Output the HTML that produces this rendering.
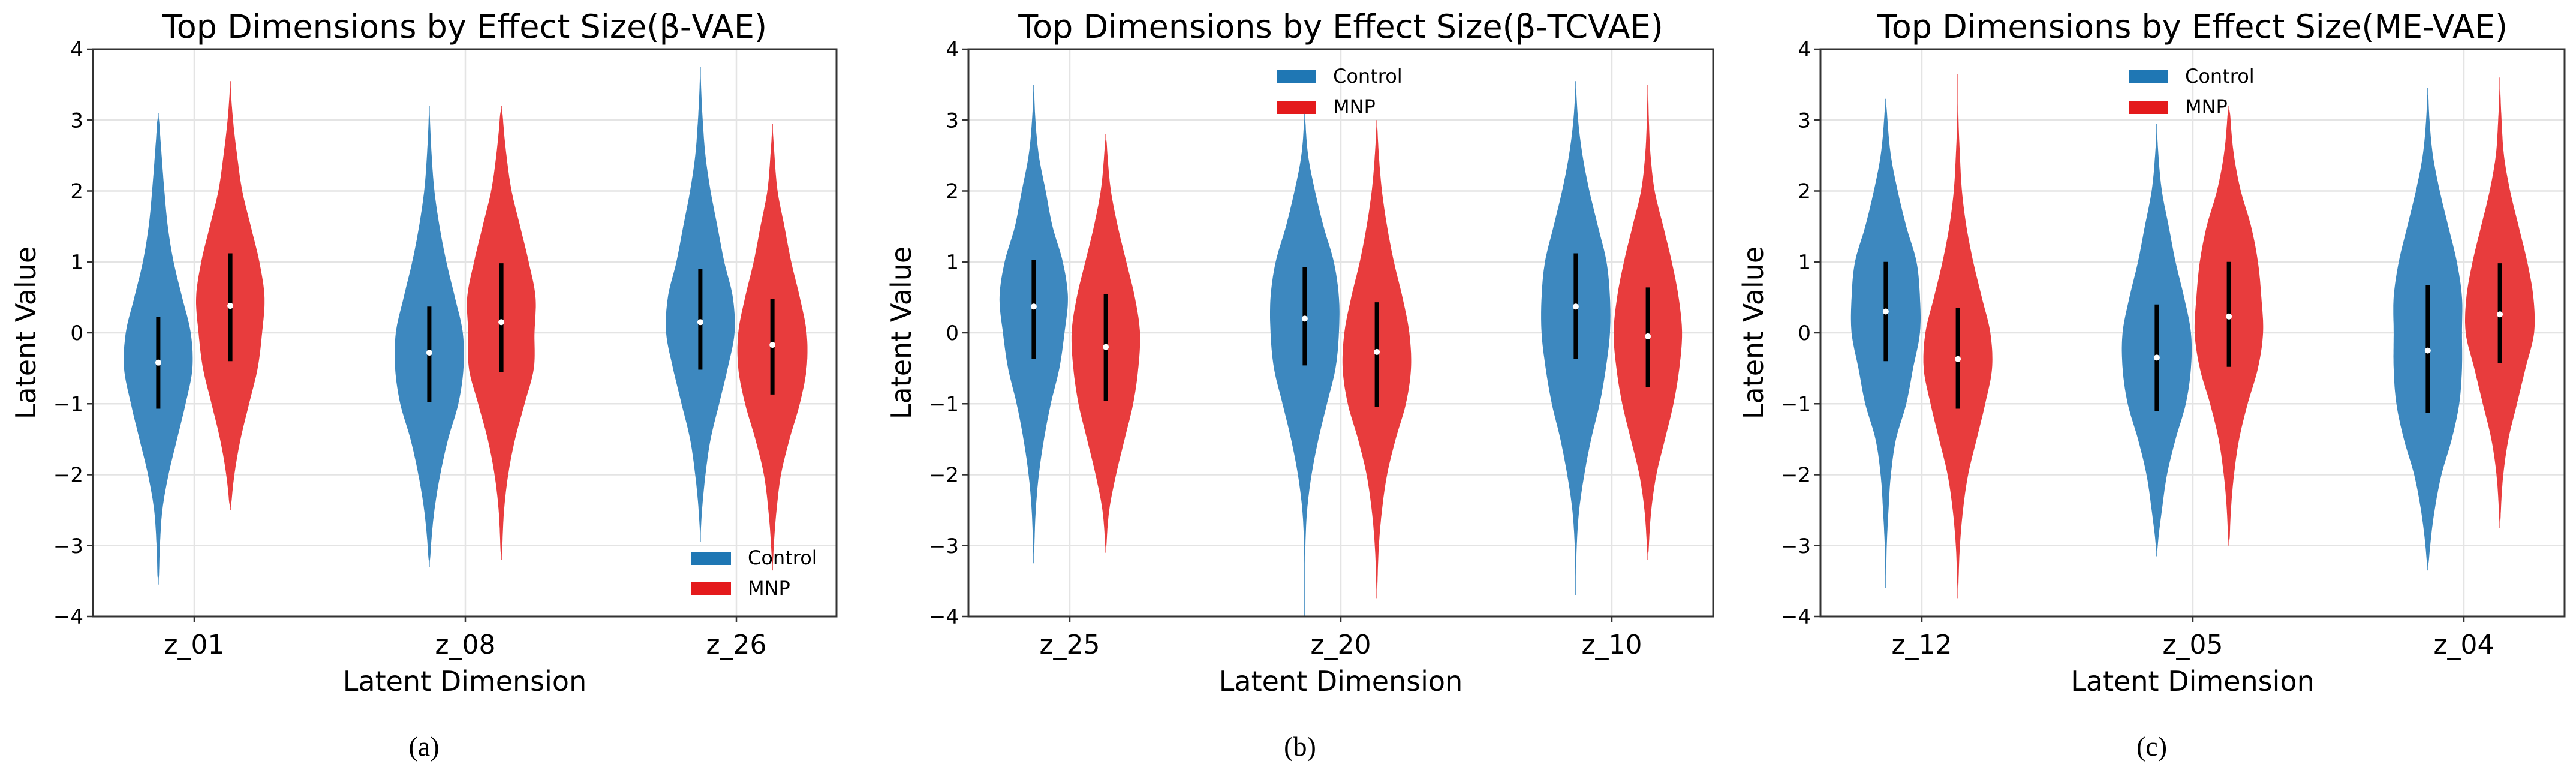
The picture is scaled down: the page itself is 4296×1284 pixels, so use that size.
<!DOCTYPE html>
<html><head><meta charset="utf-8"><style>
html,body{margin:0;padding:0;background:#fff;}
svg{display:block;font-family:"DejaVu Sans","Liberation Sans",sans-serif;}
</style></head><body>
<svg id="fig" width="4296" height="1284" viewBox="0 0 4296 1284"></svg>
<script>
// ---- data ----
const levels = [-4,-3.5,-3,-2.5,-2,-1.5,-1,-0.5,0,0.5,1,1.5,2,2.5,3,3.5,4];
const titles = ["Top Dimensions by Effect Size(β-VAE)","Top Dimensions by Effect Size(β-TCVAE)","Top Dimensions by Effect Size(ME-VAE)"];
const captions = ["(a)","(b)","(c)"];
const yTicks = [-4,-3,-2,-1,0,1,2,3,4];
const yTickLabels = ["−4","−3","−2","−1","0","1","2","3","4"];
const cats = [["z_01","z_08","z_26"],["z_25","z_20","z_10"],["z_12","z_05","z_04"]];
const ctrlMed = [[-0.42,-0.28,0.15],[0.37,0.2,0.37],[0.3,-0.35,-0.25]];
const ctrlLo = [[-1.07,-0.98,-0.52],[-0.37,-0.46,-0.37],[-0.4,-1.1,-1.13]];
const ctrlHi = [[0.22,0.37,0.9],[1.03,0.93,1.12],[1.0,0.4,0.67]];
const ctrlMin = [[-3.55,-3.3,-2.95],[-3.25,-4.0,-3.7],[-3.6,-3.15,-3.35]];
const ctrlMax = [[3.1,3.2,3.75],[3.5,3.1,3.55],[3.3,2.95,3.45]];
const mnpMed = [[0.38,0.15,-0.17],[-0.2,-0.27,-0.05],[-0.37,0.23,0.26]];
const mnpLo = [[-0.4,-0.55,-0.87],[-0.96,-1.04,-0.77],[-1.07,-0.48,-0.43]];
const mnpHi = [[1.12,0.98,0.48],[0.55,0.43,0.64],[0.35,1.0,0.98]];
const mnpMin = [[-2.5,-3.2,-3.35],[-3.1,-3.75,-3.2],[-3.75,-3.0,-2.75]];
const mnpMax = [[3.55,3.2,2.95],[2.8,3.0,3.5],[3.65,3.2,3.6]];
// relative widths at levels -4..4
const ctrlShape = [
 [[0,0.02,0.05,0.12,0.3,0.55,0.8,1,0.95,0.7,0.45,0.28,0.18,0.1,0.03,0,0],
  [0,0,0.05,0.15,0.32,0.55,0.85,1,0.98,0.75,0.5,0.3,0.15,0.07,0.02,0,0],
  [0,0,0,0.05,0.15,0.3,0.55,0.8,1,0.95,0.7,0.5,0.3,0.15,0.07,0.02,0]],
 [[0,0,0.02,0.06,0.15,0.3,0.5,0.75,0.9,1,0.85,0.55,0.35,0.15,0.05,0.01,0],
  [0,0.01,0.02,0.07,0.2,0.4,0.65,0.9,1,1,0.85,0.55,0.3,0.1,0.02,0,0],
  [0,0.01,0.03,0.1,0.25,0.45,0.7,0.88,1,1,0.9,0.65,0.4,0.2,0.07,0.01,0]],
 [[0,0.01,0.03,0.08,0.15,0.3,0.6,0.8,1,1,0.9,0.6,0.35,0.15,0.05,0,0],
  [0,0,0.03,0.15,0.3,0.55,0.85,1,1,0.8,0.55,0.35,0.15,0.05,0,0,0],
  [0,0,0.07,0.2,0.4,0.7,0.92,1,1,1,0.85,0.6,0.35,0.15,0.05,0.01,0]]];
const mnpShape = [
 [[0,0,0,0.02,0.12,0.3,0.55,0.8,0.93,1,0.85,0.6,0.35,0.2,0.08,0.01,0],
  [0,0,0.03,0.08,0.2,0.4,0.68,0.95,0.97,1,0.8,0.55,0.3,0.15,0.05,0,0],
  [0,0,0.04,0.12,0.25,0.5,0.8,1,1,0.8,0.55,0.35,0.15,0.06,0,0,0]],
 [[0,0,0.02,0.1,0.3,0.55,0.8,0.95,1,0.85,0.6,0.35,0.15,0.05,0,0,0],
  [0,0.02,0.06,0.15,0.3,0.55,0.85,1,0.95,0.75,0.5,0.3,0.15,0.06,0.01,0,0],
  [0,0,0.03,0.1,0.25,0.5,0.75,0.92,1,0.9,0.7,0.45,0.2,0.08,0.03,0.01,0]],
 [[0,0.02,0.06,0.15,0.3,0.55,0.8,1,0.95,0.7,0.45,0.25,0.12,0.06,0.02,0.01,0],
  [0,0,0.02,0.06,0.15,0.3,0.55,0.85,1,0.95,0.85,0.65,0.35,0.15,0.05,0.01,0],
  [0,0,0,0.03,0.1,0.25,0.5,0.75,1,0.98,0.8,0.55,0.3,0.12,0.05,0.01,0]]];
const legendPos = ["lower-right","upper-center","upper-center"];

// ---- layout ----
const NS="http://www.w3.org/2000/svg";
const svg=document.getElementById('fig');
const panelLeft=[155,1615,3036], panelRight=[1395,2857,4277];
const TOP=82, BOT=1028, YMIN=-4, YMAX=4;
const CAT0=169, CATSTEP=452, OFF=0.133, HALFW=57;
const CTRL="#3d88bf", MNP="#e83c3d", CTRLP="#1f77b4", MNPP="#e41a1c";
function mk(tag,attrs,parent){const e=document.createElementNS(NS,tag);for(const k in attrs)e.setAttribute(k,attrs[k]);(parent||svg).appendChild(e);return e;}
function yS(v){return BOT-(v-YMIN)/(YMAX-YMIN)*(BOT-TOP);}
function widthAt(shape,v){
  const t=(v-levels[0])/(levels[1]-levels[0]);
  const n=shape.length;
  const i=Math.max(0,Math.min(n-2,Math.floor(t)));const f=t-i;
  const p0=shape[Math.max(0,i-1)],p1=shape[i],p2=shape[i+1],p3=shape[Math.min(n-1,i+2)];
  const f2=f*f,f3=f2*f;
  const w=0.5*((2*p1)+(-p0+p2)*f+(2*p0-5*p1+4*p2-p3)*f2+(-p0+3*p1-3*p2+p3)*f3);
  return Math.max(0,w);
}
function violin(g,cx,shape,mn,mx,color,name){
  const N=160;const right=[],left=[];
  for(let k=0;k<=N;k++){const v=mn+(mx-mn)*k/N;let w=widthAt(shape,v);
    const edge=Math.min(k,N-k)/N; if(edge<0.02) w*=edge/0.02;
    w=Math.max(w,0.012);
    right.push([cx+w*HALFW,yS(v)]);left.push([cx-w*HALFW,yS(v)]);}
  const pts=right.concat(left.reverse());
  const p=mk('path',{d:'M'+pts.map(q=>q[0].toFixed(1)+','+q[1].toFixed(1)).join('L')+'Z',fill:color},g);
  
  
}
for(let p=0;p<3;p++){
  const L=panelLeft[p],R=panelRight[p],C=(L+R)/2;
  const g=mk('g',{});
  
  
  const xS=c=>L+CAT0+c*CATSTEP;
  yTicks.forEach((t,i)=>{const gl=mk('line',{x1:L,x2:R,y1:yS(t),y2:yS(t),stroke:'#e4e4e4','stroke-width':2.5},g);
    });
  cats[p].forEach((c,i)=>{const gl=mk('line',{x1:xS(i),x2:xS(i),y1:TOP,y2:BOT,stroke:'#e4e4e4','stroke-width':2.5},g);
    });
  cats[p].forEach((c,i)=>{
    [[ -OFF,ctrlShape[p][i],ctrlMin[p][i],ctrlMax[p][i],ctrlLo[p][i],ctrlHi[p][i],ctrlMed[p][i],CTRL,'control'],
     [ OFF,mnpShape[p][i],mnpMin[p][i],mnpMax[p][i],mnpLo[p][i],mnpHi[p][i],mnpMed[p][i],MNP,'mnp']].forEach(s=>{
      const cx=xS(i+s[0]);
      violin(g,cx,s[1],s[2],s[3],s[7],'violin-'+s[8]+'-'+c);
      const b=mk('line',{x1:cx,x2:cx,y1:yS(s[4]),y2:yS(s[5]),stroke:'#000','stroke-width':7},g);
      
      const d=mk('circle',{cx:cx,cy:yS(s[6]),r:5,fill:'#fff'},g);
      
    });
  });
  const fr=mk('rect',{x:L,y:TOP,width:R-L,height:BOT-TOP,fill:'none',stroke:'#333','stroke-width':3},g);
  
  yTicks.forEach((t,i)=>{mk('line',{x1:L-10,x2:L,y1:yS(t),y2:yS(t),stroke:'#333','stroke-width':2.5},g);
    const tx=mk('text',{x:L-16,y:yS(t)+12,'text-anchor':'end','font-size':34,fill:'#000'},g);tx.textContent=yTickLabels[i];
    });
  cats[p].forEach((c,i)=>{mk('line',{x1:xS(i),x2:xS(i),y1:BOT,y2:BOT+10,stroke:'#333','stroke-width':2.5},g);
    const tx=mk('text',{x:xS(i),y:BOT+62,'text-anchor':'middle','font-size':44,fill:'#000'},g);tx.textContent=c;
    });
  const ti=mk('text',{x:C,y:63,'text-anchor':'middle','font-size':54,fill:'#000'},g);ti.textContent=titles[p];
  
  const xl=mk('text',{x:C,y:1152,'text-anchor':'middle','font-size':46,fill:'#000'},g);xl.textContent='Latent Dimension';
  
  const yl=mk('text',{x:0,y:0,'text-anchor':'middle','font-size':46,fill:'#000',transform:`translate(${L-96},${(TOP+BOT)/2}) rotate(-90)`},g);yl.textContent='Latent Value';
  
  const cp=mk('text',{x:C-68,y:1260,'text-anchor':'middle','font-size':46,fill:'#000','font-family':'"Liberation Serif",serif'},g);cp.textContent=captions[p];
  
  let lx,ly;
  if(legendPos[p]==='lower-right'){lx=L+998;ly=920;} else {lx=L+514;ly=117;}
  const lg=mk('g',{},g);
  
  [['Control',CTRLP],['MNP',MNPP]].forEach((e,k)=>{
    const eg=mk('g',{},lg);
    
    mk('rect',{x:lx,y:ly+k*51,width:66,height:22,fill:e[1]},eg);
    const t=mk('text',{x:lx+94,y:ly+k*51+21,'font-size':32,fill:'#000'},eg);t.textContent=e[0];
  });
}
</script>
</body></html>
